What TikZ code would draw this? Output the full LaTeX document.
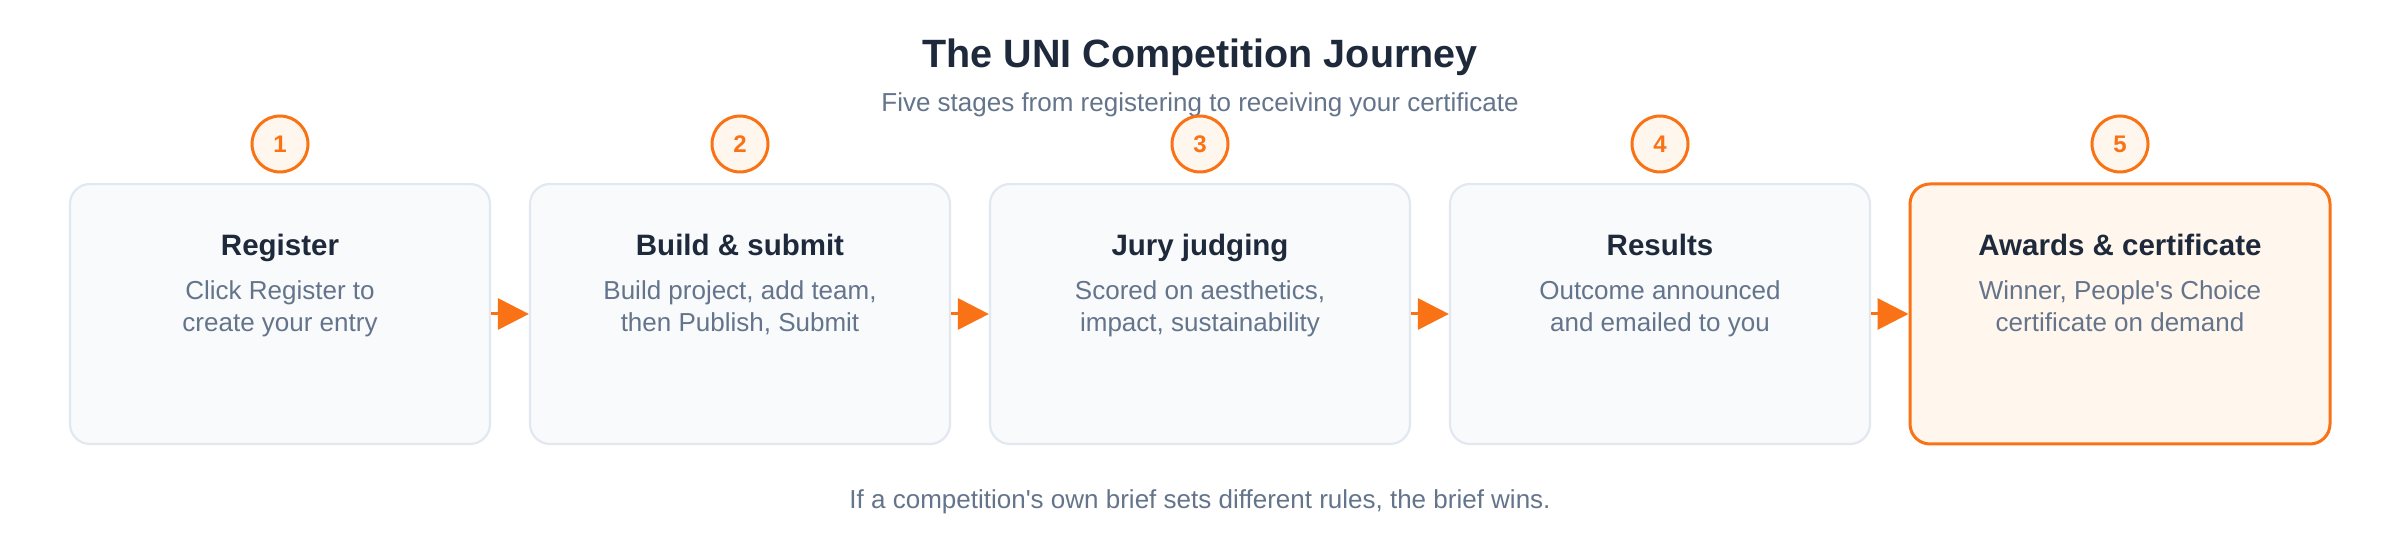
\documentclass[tikz,border=0pt]{standalone}
\usepackage{fontspec}
\setmainfont[Ligatures=TeXOff]{Liberation Sans}
\usetikzlibrary{arrows.meta}
\definecolor{orng}{HTML}{F97316}
\definecolor{orngfill}{HTML}{FFF7ED}
\definecolor{boxfill}{HTML}{F8FAFC}
\definecolor{boxline}{HTML}{E2E8F0}
\definecolor{darktext}{HTML}{1E293B}
\definecolor{greytext}{HTML}{64748B}
\begin{document}
\begin{tikzpicture}[x=0.5pt,y=-0.5pt,
  stepbox/.style={draw=boxline, fill=boxfill, line width=1.1pt, rounded corners=10pt,
    minimum width=210pt, minimum height=130pt, inner sep=0pt},
  finalbox/.style={stepbox, draw=orng, fill=orngfill, line width=1.5pt},
  badge/.style={circle, draw=orng, fill=orngfill, line width=1.5pt, minimum size=28pt,
    inner sep=0pt, text=orng, font=\bfseries\fontsize{12pt}{14pt}\selectfont},
  boxtitle/.style={anchor=base, inner sep=0pt, text=darktext, font=\bfseries\fontsize{14.75pt}{17pt}\selectfont},
  desc/.style={anchor=base, inner sep=0pt, text=greytext, font=\fontsize{13pt}{15pt}\selectfont},
  flow/.style={draw=orng, line width=1.5pt, -{Triangle[length=15.5pt,width=15.5pt]}, color=orng}
]
\useasboundingbox[fill=white] (0,0) rectangle (2400,560);

\node[anchor=base, inner sep=0pt, text=darktext, font=\bfseries\fontsize{19.75pt}{23pt}\selectfont] (title) at (1200,68) {The UNI Competition Journey};
\node[desc] (subtitle) at (1200,112) {Five stages from registering to receiving your certificate};

% boxes
\node[stepbox] (b1) at (280,314) {};
\node[stepbox] (b2) at (740,314) {};
\node[stepbox] (b3) at (1200,314) {};
\node[stepbox] (b4) at (1660,314) {};
\node[finalbox] (b5) at (2120,314) {};

% badges
\node[badge] (n1) at (280,144) {1};
\node[badge] (n2) at (740,144) {2};
\node[badge] (n3) at (1200,144) {3};
\node[badge] (n4) at (1660,144) {4};
\node[badge] (n5) at (2120,144) {5};

% titles
\node[boxtitle] (t1) at (280,256) {Register};
\node[boxtitle] (t2) at (740,256) {Build \& submit};
\node[boxtitle] (t3) at (1200,256) {Jury judging};
\node[boxtitle] (t4) at (1660,256) {Results};
\node[boxtitle] (t5) at (2120,256) {Awards \& certificate};

% descriptions
\node[desc] (d1a) at (280,300) {Click Register to};
\node[desc] (d1b) at (280,332) {create your entry};
\node[desc] (d2a) at (740,300) {Build project, add team,};
\node[desc] (d2b) at (740,332) {then Publish, Submit};
\node[desc] (d3a) at (1200,300) {Scored on aesthetics,};
\node[desc] (d3b) at (1200,332) {impact, sustainability};
\node[desc] (d4a) at (1660,300) {Outcome announced};
\node[desc] (d4b) at (1660,332) {and emailed to you};
\node[desc] (d5a) at (2120,300) {Winner, People's Choice};
\node[desc] (d5b) at (2120,332) {certificate on demand};

% connectors
\draw[flow] (b1.east) -- (b2.west);
\draw[flow] (b2.east) -- (b3.west);
\draw[flow] (b3.east) -- (b4.west);
\draw[flow] (b4.east) -- (b5.west);

\node[desc] (footer) at (1200,509) {If a competition's own brief sets different rules, the brief wins.};
\end{tikzpicture}
\end{document}
